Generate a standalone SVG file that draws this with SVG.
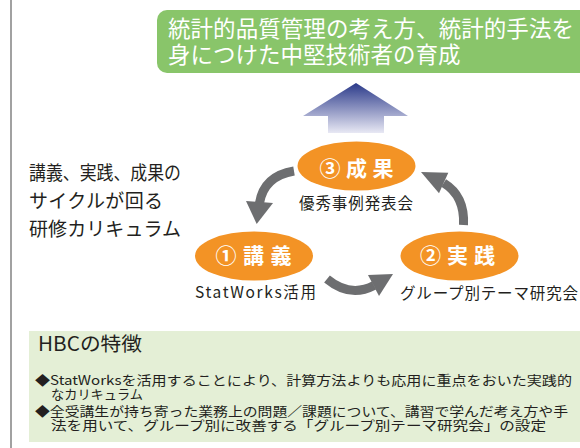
<svg xmlns="http://www.w3.org/2000/svg" width="580" height="448" viewBox="0 0 580 448">
<defs>
<linearGradient id="upg" x1="0" y1="0" x2="0" y2="1">
<stop offset="0" stop-color="#2b3a8a"/>
<stop offset="1" stop-color="#e8e8f4"/>
</linearGradient>
<style>
.t{font-family:"Noto Sans CJK JP","Noto Sans",sans-serif;fill:#231f20}
.w{font-family:"Noto Sans CJK JP","Noto Sans",sans-serif;fill:#ffffff}
.ell{fill:#f39325}
.lab{font-size:21px;font-weight:bold;text-anchor:middle}
.sub{font-size:15.5px;text-anchor:middle}
.band{fill:none;stroke:#6d6e70;stroke-width:9}
.head{fill:#6d6e70}
.b{font-size:13px}
</style>
</defs>
<rect width="580" height="448" fill="#ffffff"/>
<line x1="11" y1="0" x2="11" y2="448" stroke="#6f6f6f" stroke-width="1.3"/>
<g id="goal">
<rect x="157" y="10" width="440" height="63" rx="10" fill="#89c56a"/>
<text class="w" font-size="22.5"><tspan x="168" y="36.5" textLength="406">統計的品質管理の考え方、統計的手法を</tspan><tspan x="168" y="63">身につけた中堅技術者の育成</tspan></text>
</g>
<g id="uparrow">
<polygon points="356,83 408,116 384,116 384,133 328,133 328,116 303,116" fill="url(#upg)"/>
</g>
<g id="caption">
<text class="t" font-size="19"><tspan x="29" y="180" textLength="152" lengthAdjust="spacingAndGlyphs">講義、実践、成果の</tspan><tspan x="29" y="208" textLength="134">サイクルが回る</tspan><tspan x="29" y="236" textLength="152">研修カリキュラム</tspan></text>
</g>
<g id="connectors">
<path class="band" d="M294,171 Q264,176 259.5,203"/>
<polygon class="head" points="246,201 273,203 256.7,224"/>
<path class="band" d="M327,279 Q350,298 374,285.5"/>
<polygon class="head" points="368,275 393,274 379,296"/>
<path class="band" d="M463.5,225 Q465,196 443.7,183"/>
<polygon class="head" points="421,172 448.3,172.7 439,193.3"/>
</g>
<g id="n3">
<ellipse class="ell" cx="356.5" cy="166" rx="59" ry="24.5"/>
<text class="w lab" x="356.5" y="176" textLength="74">③ 成 果</text>
<text class="t sub" x="356" y="209" textLength="114">優秀事例発表会</text>
</g>
<g id="n1">
<ellipse class="ell" cx="254" cy="256" rx="59" ry="24.5"/>
<text class="w lab" x="253.4" y="263" textLength="76">① 講 義</text>
<text class="t sub" x="255.5" y="298" textLength="121">StatWorks活用</text>
</g>
<g id="n2">
<ellipse class="ell" cx="459.5" cy="256" rx="59" ry="24.5"/>
<text class="w lab" x="457.5" y="263" textLength="75">② 実 践</text>
<text class="t sub" x="489" y="299" textLength="178">グループ別テーマ研究会</text>
</g>
<g id="features">
<rect x="29" y="331" width="560" height="111" fill="#e4efd6"/>
<text class="t" x="38" y="351" font-size="19.5" textLength="104" lengthAdjust="spacingAndGlyphs">HBCの特徴</text>
<text class="t b"><tspan x="35" y="384.5" textLength="537" lengthAdjust="spacingAndGlyphs">◆StatWorksを活用することにより、計算方法よりも応用に重点をおいた実践的</tspan><tspan x="51" y="398.5" textLength="92" lengthAdjust="spacingAndGlyphs">なカリキュラム</tspan><tspan x="35" y="415.5" textLength="533" lengthAdjust="spacingAndGlyphs">◆全受講生が持ち寄った業務上の問題／課題について、講習で学んだ考え方や手</tspan><tspan x="51" y="429.5" textLength="495" lengthAdjust="spacingAndGlyphs">法を用いて、グループ別に改善する「グループ別テーマ研究会」の設定</tspan></text>
</g>
</svg>
